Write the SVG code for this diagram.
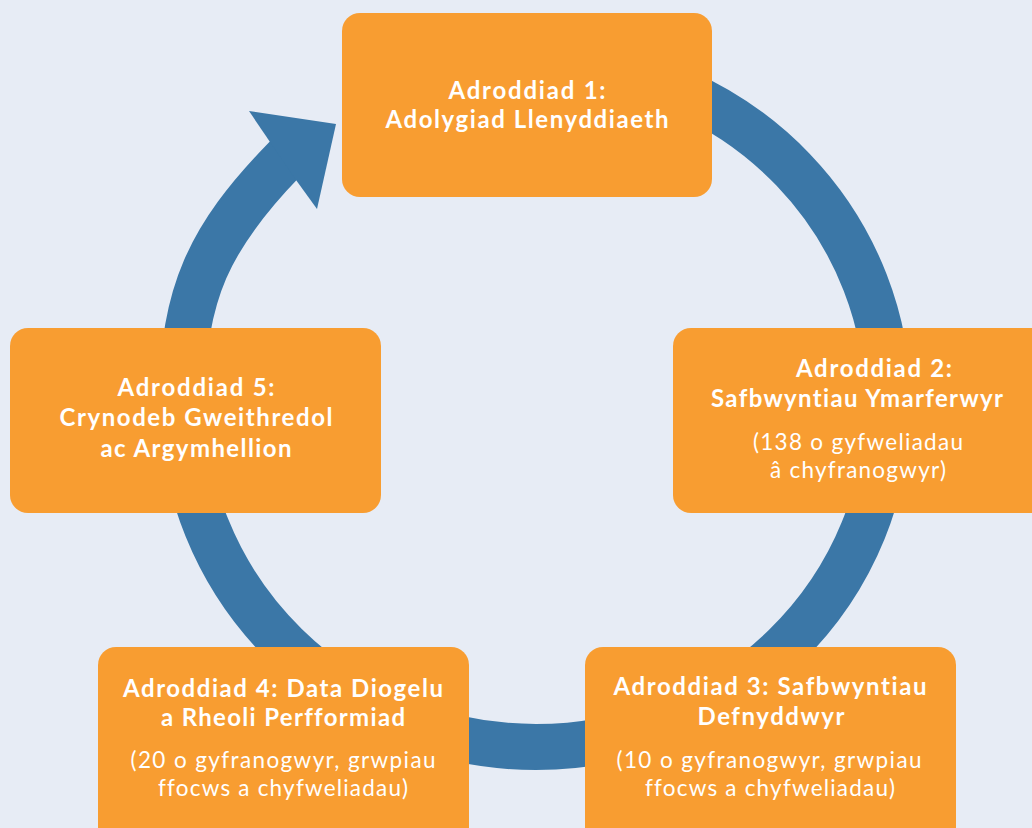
<svg xmlns="http://www.w3.org/2000/svg" width="1032" height="828" viewBox="0 0 1032 828">
<style>
.box{fill:#f89d31}
.b{font-family:Lato,"Noto Sans","Liberation Sans",sans-serif;font-weight:700;font-size:24px;fill:#ffffff;text-anchor:middle;font-variant-ligatures:none}
.r{font-family:Lato,"Noto Sans","Liberation Sans",sans-serif;font-weight:400;font-size:22.5px;fill:#ffffff;text-anchor:middle;font-variant-ligatures:none}
.ring{fill:none;stroke:#3b77a7;stroke-width:46}
.head{fill:#3b77a7}
</style>
<rect x="0" y="0" width="1032" height="828" fill="#e7ecf5"/>
<g id="connectors">
<path class="ring" d="M 560 61.8 A 352 343 0 0 1 888 404 A 352 343 0 0 1 536 747 A 354 347 0 0 1 182 400 C 182 295 209.9 236.4 283 161 L 289 154.8"/>
<polygon class="head" points="270,142 249,111 336,124 317,209 296,180"/>
</g>
<g id="node1">
<rect class="box" x="342" y="13" width="370" height="184" rx="18"/>
<text class="b" x="527" y="99" textLength="157">Adroddiad 1:</text>
<text class="b" x="527" y="128" textLength="283">Adolygiad Llenyddiaeth</text>
</g>
<g id="node2">
<rect class="box" x="673" y="328" width="380" height="185" rx="18"/>
<text class="b" x="874" y="377" textLength="156">Adroddiad 2:</text>
<text class="b" x="857" y="407" textLength="292">Safbwyntiau Ymarferwyr</text>
<text class="r" x="858" y="450" textLength="210">(138 o gyfweliadau</text>
<text class="r" x="858" y="478" textLength="176">â chyfranogwyr)</text>
</g>
<g id="node3">
<rect class="box" x="585" y="647" width="371" height="200" rx="18"/>
<text class="b" x="770" y="695" textLength="313">Adroddiad 3: Safbwyntiau</text>
<text class="b" x="771" y="725" textLength="147">Defnyddwyr</text>
<text class="r" x="769" y="768" textLength="305">(10 o gyfranogwyr, grwpiau</text>
<text class="r" x="770" y="796" textLength="250">ffocws a chyfweliadau)</text>
</g>
<g id="node4">
<rect class="box" x="98" y="647" width="371" height="200" rx="18"/>
<text class="b" x="283" y="697" textLength="320">Adroddiad 4: Data Diogelu</text>
<text class="b" x="283" y="726" textLength="244">a Rheoli Perfformiad</text>
<text class="r" x="283" y="768" textLength="305">(20 o gyfranogwyr, grwpiau</text>
<text class="r" x="283" y="796" textLength="250">ffocws a chyfweliadau)</text>
</g>
<g id="node5">
<rect class="box" x="10" y="328" width="371" height="185" rx="18"/>
<text class="b" x="196" y="396" textLength="157">Adroddiad 5:</text>
<text class="b" x="196" y="426" textLength="273">Crynodeb Gweithredol</text>
<text class="b" x="196" y="457" textLength="191">ac Argymhellion</text>
</g>
</svg>
